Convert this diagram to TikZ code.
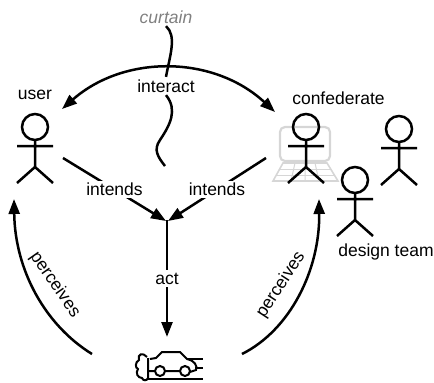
\documentclass[tikz,border=0pt]{standalone}
\usepackage{fontspec}
\setmainfont{Liberation Sans}
\usetikzlibrary{arrows.meta}

\tikzset{
	link/.style={line width=2.5pt},
	arrow/.style={link,-{Triangle[length=15pt,width=11pt]}},
	lbl/.style={font=\fontsize{17.5}{20}\selectfont,inner sep=2.5pt},
	cutlbl/.style={lbl,fill=white},
	stickman/.pic={
		\draw[link] (0,0) circle (13);
		\draw[link] (0,13) -- (0,40) (-18,19) -- (18,19) (-18,56) -- (0,40) -- (18,56);
	}
}

\begin{document}
\begin{tikzpicture}[x=1pt,y=-1pt]
	\useasboundingbox (0,0) rectangle (434,383);

	% computer behind the confederate
	\begin{scope}[draw=black!16]
		\draw[line width=2.2pt,rounded corners=5pt] (280,127) rectangle (330,161);
		\draw[line width=1.6pt] (283,163) -- (327,163) -- (338,181) -- (273,181) -- cycle;
		\draw[line width=1pt] (279.5,169) -- (331,169) (276,175) -- (334.5,175);
		\draw[line width=1pt] (295,163) -- (291,181) (305,163) -- (305,181) (315,163) -- (319,181);
	\end{scope}

	\pic at (35,127) {stickman};
	\pic at (306,127) {stickman};
	\pic at (399,129) {stickman};
	\pic at (355,180) {stickman};

	\node[lbl] (user) at (35,95) {user};
	\node[lbl] (confederate) at (338.5,98) {confederate};
	\node[lbl] (team) at (386,252) {design team};
	\node[lbl,text=black!50,font=\fontsize{17.5}{20}\selectfont\itshape] (curtain) at (166,17) {curtain};

	\coordinate (userTop) at (62,109);
	\coordinate (confTop) at (275,112);
	\coordinate (userSide) at (63,158);
	\coordinate (confSide) at (266,158);
	\coordinate (userFoot) at (14,199);
	\coordinate (confFoot) at (319,199);
	\coordinate (hubL) at (166,221);
	\coordinate (hubR) at (168,221);
	\coordinate (hub) at (167,220);
	\coordinate (carTop) at (167,337);
	\coordinate (carL) at (92,354);
	\coordinate (carR) at (242,354);
	\coordinate (curtainEnd) at (165,166);

	\draw[arrow,{Triangle[length=15pt,width=11pt]}-{Triangle[length=15pt,width=11pt]}] (userTop) to[bend left=42] (confTop);
	\node[cutlbl] (interact) at (166,86) {interact};

	\draw[link] (curtain.south) .. controls (177,36) and (170,55) .. (interact.north);
	\draw[link] (interact.south) .. controls (178,110) and (170,125) .. (160,140) .. controls (153,150) and (158,157) .. (curtainEnd);

	\draw[arrow] (userSide) to node[cutlbl] {intends} (hubL);
	\draw[arrow] (confSide) to node[cutlbl] {intends} (hubR);
	\draw[arrow] (hub) to node[cutlbl] {act} (carTop);

	\draw[arrow] (carL) .. controls (45,325) and (15,270) .. (userFoot);
	\draw[arrow] (carR) .. controls (290,330) and (320,270) .. (confFoot);
	\node[lbl,rotate=-55] (perceivesL) at (55,285) {perceives};
	\node[lbl,rotate=57] (perceivesR) at (281,285) {perceives};

	% car
	\begin{scope}[line width=2pt]
		\draw (147,379) -- (203,379) (188,359) -- (203,359) (195,368) -- (203,368);
		\draw (150,359) -- (156,358) -- (162,352) -- (180,352) -- (187,359) .. controls (194,360) and (198,366) .. (196,370) -- (190,372);
		\draw (160,371) circle (5) (185,371) circle (5) (165,371) -- (180,371) (147,371) -- (155,371);
		\draw (147,357) .. controls (143,352) and (137,354) .. (139,360) .. controls (135,362) and (135,368) .. (138,369) .. controls (135,373) and (138,378) .. (142,378) .. controls (143,381) and (147,381) .. (148,378) -- (148,358);
	\end{scope}
\end{tikzpicture}
\end{document}
